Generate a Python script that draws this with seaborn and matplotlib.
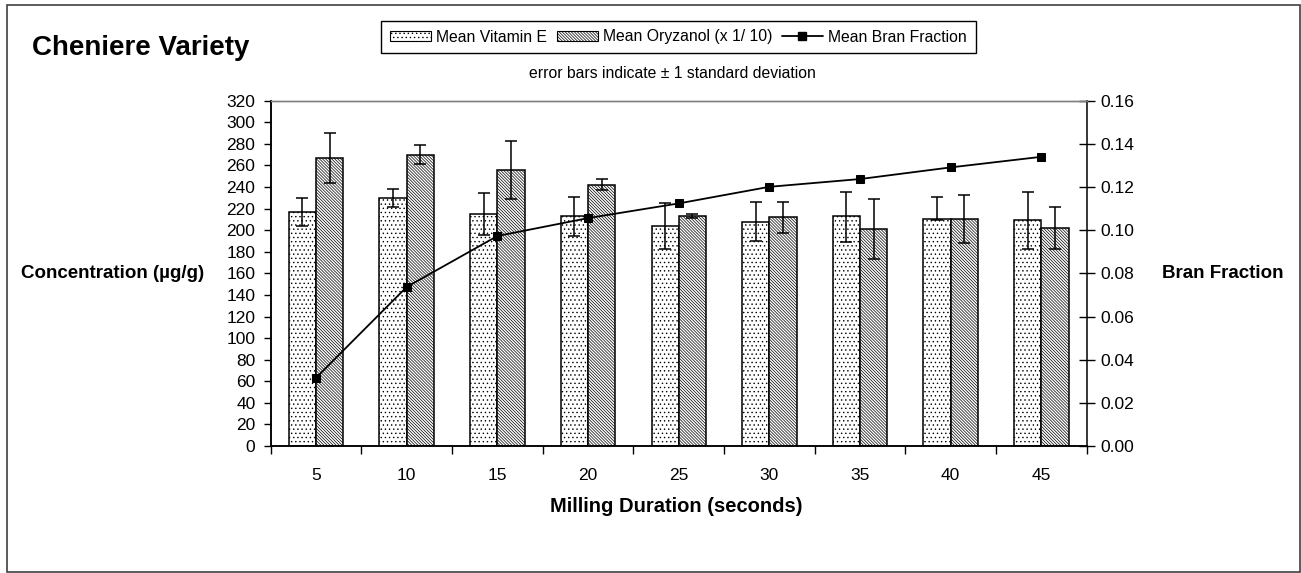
import numpy as np
import pandas as pd
import matplotlib
matplotlib.use("Agg")
import matplotlib.pyplot as plt
from matplotlib.patches import Patch, Rectangle
from matplotlib.lines import Line2D
from matplotlib.ticker import FormatStrFormatter, FixedLocator
import seaborn as sns

# ---------------- data ----------------
durations = ["5", "10", "15", "20", "25", "30", "35", "40", "45"]
vit_e = [217, 230, 215, 213, 204, 208, 213, 210.5, 209]
vit_e_err_low = [13.5, 8.5, 19.5, 18, 21, 18, 23.5, 1, 26.5]
vit_e_err_high = [13, 8.5, 19, 18, 21.5, 18, 22.5, 20.5, 26.5]
oryzanol = [267, 270, 256, 242, 213, 212, 201, 210.5, 202]
oryzanol_sd = [23, 9, 27, 5, 2, 14.5, 28, 22, 19.5]
bran_fraction = [0.0316, 0.0737, 0.0973, 0.1056, 0.1124, 0.1201, 0.1237, 0.1291, 0.134]
series_names = ["Mean Vitamin E", "Mean Oryzanol (x 1/ 10)", "Mean Bran Fraction"]
left_ticks = list(range(0, 321, 20))
right_ticks = [0.00, 0.02, 0.04, 0.06, 0.08, 0.10, 0.12, 0.14, 0.16]

W, H = 1301, 573
sns.set_style("white")
plt.rcParams["font.family"] = ["Liberation Sans", "DejaVu Sans"]
plt.rcParams["hatch.linewidth"] = 0.5
for k in ("text.color", "axes.labelcolor", "xtick.color", "ytick.color"):
    plt.rcParams[k] = "black"

fig = plt.figure(figsize=(W / 100, H / 100), dpi=100)
ax = fig.add_axes([270.7 / W, 1 - 446 / H, (1086.7 - 270.7) / W, (446 - 100.7) / H])

df = pd.DataFrame({
    "duration": durations * 2,
    "series": [series_names[0]] * len(durations) + [series_names[1]] * len(durations),
    "value": vit_e + oryzanol,
})
sns.barplot(data=df, x="duration", y="value", hue="series", order=durations,
            hue_order=series_names[:2], palette=["white", "white"], saturation=1,
            edgecolor="black", linewidth=1.1, width=0.6, gap=0, errorbar=None,
            legend=False, ax=ax)

n = len(durations)
hatch_dots = "...."
hatch_diag = "\\" * 11
for i, p in enumerate(ax.patches):
    p.set_hatch(hatch_dots if i < n else hatch_diag)

xpos = np.arange(n)
ax.errorbar(xpos - 0.15, vit_e, yerr=[vit_e_err_low, vit_e_err_high], fmt="none",
            ecolor="black", elinewidth=1.1, capsize=4, capthick=1.1, zorder=5)
ax.errorbar(xpos + 0.15, oryzanol, yerr=oryzanol_sd, fmt="none",
            ecolor="black", elinewidth=1.1, capsize=4, capthick=1.1, zorder=5)

ax.set_ylim(0, 320)
ax.set_yticks(left_ticks)
ax.set_xlim(-0.5, n - 0.5)
ax.set_xlabel("")
ax.set_ylabel("")
ax.tick_params(axis="y", direction="out", length=5, width=1, pad=6, labelsize=12.5, left=True)
ax.tick_params(axis="x", which="major", length=0, pad=16, labelsize=12.5)
ax.xaxis.set_minor_locator(FixedLocator(np.arange(-0.5, n, 1.0)))
ax.tick_params(axis="x", which="minor", direction="out", length=6, width=1, bottom=True)

ax2 = ax.twinx()
sns.lineplot(x=xpos, y=bran_fraction, ax=ax2, color="black", linewidth=1.3,
             marker="s", markersize=6, markeredgecolor="black", markerfacecolor="black")
ax2.set_ylim(0, 0.16)
ax2.set_yticks(right_ticks)
ax2.yaxis.set_major_formatter(FormatStrFormatter("%.2f"))
ax2.set_xlim(-0.5, n - 0.5)
ax2.tick_params(axis="y", direction="inout", length=12, width=1, pad=4, labelsize=12.5, right=True)
ax2.set_ylabel("")

for a in (ax, ax2):
    for s in ("left", "right", "bottom"):
        a.spines[s].set_color("black")
        a.spines[s].set_linewidth(1.1)
    a.spines["top"].set_color("#808080")
    a.spines["top"].set_linewidth(1.0)
    a.spines["top"].set_visible(True)
ax.spines["right"].set_visible(False)

# texts
fig.text(31.7 / W, 1 - 55 / H, "Cheniere Variety", fontsize=20, fontweight="bold", va="baseline", ha="left")
fig.text(20.7 / W, 1 - 273 / H, "Concentration (µg/g)", fontsize=13.5, fontweight="bold", va="center", ha="left")
fig.text(1161.7 / W, 1 - 273 / H, "Bran Fraction", fontsize=13.5, fontweight="bold", va="center", ha="left")
fig.text(676 / W, 1 - 507 / H, "Milling Duration (seconds)", fontsize=14.5, fontweight="bold", va="center", ha="center")
fig.text(672 / W, 1 - 73 / H, "error bars indicate ± 1 standard deviation", fontsize=11.3, va="center", ha="center")

handles = [
    Patch(facecolor="white", edgecolor="black", hatch=hatch_dots, linewidth=0.8),
    Patch(facecolor="white", edgecolor="black", hatch=hatch_diag, linewidth=0.8),
    Line2D([], [], color="black", linewidth=1.3, marker="s", markersize=6),
]
leg = fig.legend(handles, series_names, loc="center", bbox_to_anchor=(678.5 / W, 1 - 37 / H),
                 ncol=3, frameon=True, fancybox=False, edgecolor="black", fontsize=11.3,
                 handlelength=2.6, handleheight=0.6, columnspacing=0.6, handletextpad=0.35,
                 borderpad=0.55, borderaxespad=0)
leg.get_frame().set_linewidth(1.0)
leg.get_frame().set_alpha(1)

fig.patches.append(Rectangle((7 / W, 1 - 572 / H), (1300 - 7) / W, (572 - 5) / H,
                             transform=fig.transFigure, fill=False, edgecolor="#404040", linewidth=1.2))

fig.savefig("out.png", dpi=100)
